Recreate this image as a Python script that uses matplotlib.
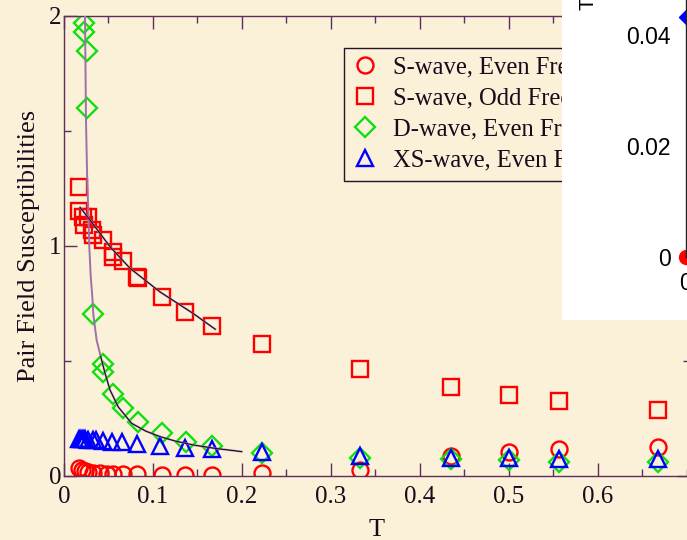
import matplotlib.pyplot as plt
from matplotlib.patches import Rectangle
from matplotlib.ticker import MultipleLocator

# values
T_s_even = [0.0167, 0.020, 0.0236, 0.0273, 0.033, 0.040, 0.048, 0.0554, 0.0667, 0.082, 0.110, 0.136, 0.166,
            0.222, 0.333, 0.435, 0.500, 0.556, 0.667]
chi_s_even = [0.033, 0.026, 0.020, 0.016, 0.013, 0.011, 0.010, 0.009, 0.008, 0.007, 0.006, 0.006, 0.006,
              0.014, 0.026, 0.085, 0.106, 0.117, 0.127]

T_s_odd = [0.0169, 0.0169, 0.0217, 0.0225, 0.027, 0.032, 0.033, 0.0435, 0.055, 0.0555, 0.066, 0.082, 0.083,
           0.110, 0.136, 0.166, 0.222, 0.333, 0.435, 0.500, 0.556, 0.667]
chi_s_odd = [1.258, 1.153, 1.127, 1.091, 1.127, 1.070, 1.048, 1.026, 0.975, 0.952, 0.936, 0.867, 0.860,
             0.780, 0.714, 0.652, 0.573, 0.464, 0.388, 0.352, 0.327, 0.287]

T_d_even = [0.0225, 0.0225, 0.026, 0.0255, 0.033, 0.0435, 0.044, 0.055, 0.066, 0.0835, 0.110, 0.137, 0.166,
            0.222, 0.333, 0.435, 0.500, 0.556, 0.667]
chi_d_even = [1.97, 1.93, 1.85, 1.60, 0.705, 0.487, 0.454, 0.357, 0.294, 0.236, 0.186, 0.149, 0.132,
              0.100, 0.080, 0.072, 0.068, 0.063, 0.062]

T_xs_even = [0.0167, 0.019, 0.021, 0.0236, 0.0273, 0.033, 0.036, 0.044, 0.0536, 0.0648, 0.082, 0.108, 0.136,
             0.166, 0.222, 0.333, 0.435, 0.500, 0.556, 0.667]
chi_xs_even = [0.162, 0.162, 0.161, 0.160, 0.158, 0.157, 0.155, 0.152, 0.150, 0.146, 0.140, 0.130, 0.122,
               0.117, 0.104, 0.088, 0.080, 0.080, 0.073, 0.073]

# fitted curves
fit_d_T = [0.0236, 0.0247, 0.0260, 0.0273, 0.0284, 0.0300, 0.0318, 0.0330, 0.0367, 0.0412, 0.0461, 0.0517,
           0.0610, 0.0760, 0.0920, 0.1080, 0.1250, 0.1450, 0.1700, 0.1997]
fit_d_chi = [2.00, 1.55, 1.30, 1.15, 1.00, 0.87, 0.78, 0.70, 0.59, 0.52, 0.447, 0.374,
             0.300, 0.229, 0.195, 0.171, 0.152, 0.135, 0.120, 0.106]
fit_s_T = [0.018, 0.0292, 0.0517, 0.0742, 0.108, 0.145, 0.170]
fit_s_chi = [1.168, 1.113, 0.997, 0.903, 0.800, 0.707, 0.638]

labels = ['S-wave, Even Frequency', 'S-wave, Odd Frequency',
          'D-wave, Even Frequency', 'XS-wave, Even Frequency']

spine_col = '#5e2e5e'
text_col = '#1c0a1c'

plt.rcParams['font.family'] = ['Liberation Serif', 'DejaVu Serif']

fig = plt.figure(figsize=(6.87, 5.40), dpi=100)
fig.patch.set_facecolor('#fbf0d8')

ax = fig.add_axes([64/687, 1-476/540, (690-64)/687, (476-16)/540])
ax.set_facecolor('none')

ax.plot(T_s_even, chi_s_even, 'o', ls='none', mfc='none', mec='#ff0000', mew=1.7, ms=11.5, label=labels[0])
ax.plot(T_s_odd, chi_s_odd, 's', ls='none', mfc='none', mec='#ff0000', mew=1.7, ms=11, label=labels[1])
ax.plot(T_d_even, chi_d_even, 'D', ls='none', mfc='none', mec='#10e010', mew=1.7, ms=10, label=labels[2])
ax.plot(T_xs_even, chi_xs_even, '^', ls='none', mfc='none', mec='#0000ff', mew=1.7, ms=11.5, label=labels[3])

ax.plot(fit_d_T, fit_d_chi, color='#a070a8', lw=1.4, zorder=4)
ax.plot(fit_d_T[9:], fit_d_chi[9:], color='black', lw=0.6, zorder=5)
ax.plot(fit_s_T, fit_s_chi, color='#a070a8', lw=1.4, zorder=4)
ax.plot(fit_s_T, fit_s_chi, color='black', lw=0.6, zorder=5)

ax.set_xlim(0, 0.7034)
ax.set_ylim(0, 2)
ax.set_xticks([0, 0.1, 0.2, 0.3, 0.4, 0.5, 0.6])
ax.set_xticklabels(['0', '0.1', '0.2', '0.3', '0.4', '0.5', '0.6'])
ax.xaxis.set_minor_locator(MultipleLocator(0.05))
ax.set_yticks([0, 1, 2])
ax.set_yticklabels(['0', '1', '2'])
ax.yaxis.set_minor_locator(MultipleLocator(0.5))
ax.tick_params(which='both', direction='in', top=True, right=True, color=spine_col,
               labelcolor=text_col, labelsize=18, width=1)
ax.tick_params(which='major', length=9.4)
ax.tick_params(which='minor', length=5)
ax.tick_params(axis='x', pad=7)
ax.tick_params(axis='y', pad=2)
for s in ax.spines.values():
    s.set_color(spine_col)
    s.set_linewidth(1)

ax.set_xlabel('T', fontsize=19, color=text_col, labelpad=8)
ax.set_ylabel('Pair Field Susceptibilities', fontsize=19, color=text_col, labelpad=6)

leg = ax.legend(loc='upper left', bbox_to_anchor=(344/687, 1-48/540), bbox_transform=fig.transFigure,
                fontsize=17.7, labelspacing=0.36, handlelength=1.0, handletextpad=0.65,
                borderpad=0.35, borderaxespad=0, fancybox=False, framealpha=1)
leg.get_frame().set_facecolor('none')
leg.get_frame().set_edgecolor('#2a102a')
leg.get_frame().set_linewidth(1)
for t in leg.get_texts():
    t.set_color(text_col)

# overlapping white panel of another chart at the top right
fig.add_artist(Rectangle((562/687, 1-320/540), 1, 1, transform=fig.transFigure,
                         facecolor='white', edgecolor='none', zorder=5))
ax2 = fig.add_axes([686/687, 1-256.5/540, 0.3, 280/540], zorder=6)
ax2.set_facecolor('white')
ax2.set_xlim(0, 1)
ax2.set_ylim(0, 0.0505)
ax2.plot([0], [0.0432], 'D', color='#0000ff', ms=6.8, clip_on=False)
ax2.plot([0], [0], 'o', color='#ff0000', ms=10, clip_on=False)
ax2.set_yticks([0, 0.02, 0.04])
ax2.set_yticklabels(['0', '0.02', '0.04'], family='Liberation Sans')
ax2.set_xticks([0])
ax2.set_xticklabels(['0'], family='Liberation Sans')
ax2.tick_params(direction='in', length=3, labelsize=16.5, pad=11, colors='black')
for s in ax2.spines.values():
    s.set_color('#222222')
    s.set_linewidth(1)
fig.text(588/687, 1-4/540, 'T', rotation=90, ha='center', va='center', fontsize=15,
         family='Liberation Sans', zorder=7)

fig.savefig('out.png', dpi=100, facecolor=fig.get_facecolor())
